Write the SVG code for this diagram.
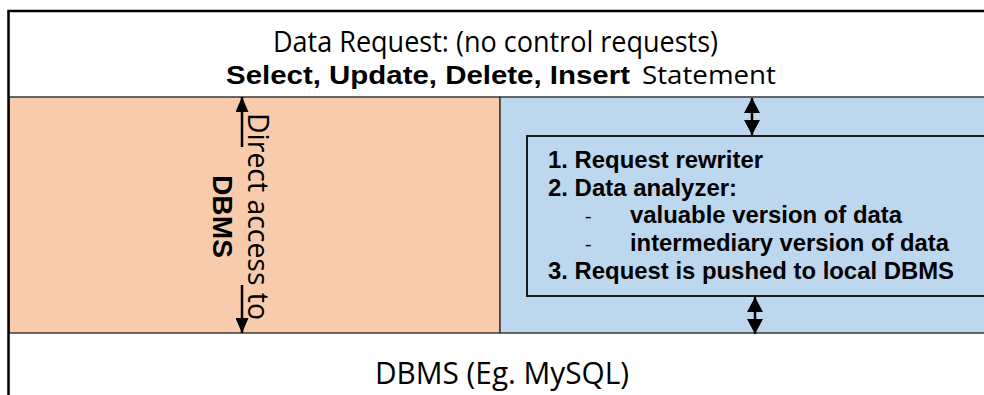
<svg xmlns="http://www.w3.org/2000/svg" width="984" height="395" viewBox="0 0 984 395">
<style>
.reg{font-family:"Open Sans","DejaVu Sans",sans-serif;fill:#000}
.bold{font-family:"Liberation Sans",Arial,sans-serif;font-weight:bold;fill:#000}
.band{stroke:#3a3a3a;stroke-width:1.5}
.conn{stroke:#000;stroke-width:2.5;fill:none}
</style>
<defs>
<marker id="hs" markerUnits="userSpaceOnUse" markerWidth="15" markerHeight="13" refX="15" refY="6.5" orient="auto-start-reverse">
<path d="M0,0 L15,6.5 L0,13 z" fill="#000"/>
</marker>
<marker id="hb" markerUnits="userSpaceOnUse" markerWidth="15" markerHeight="16" refX="15" refY="8" orient="auto-start-reverse">
<path d="M0,0 L15,8 L0,16 z" fill="#000"/>
</marker>
</defs>
<rect width="984" height="395" fill="#fff"/>
<g id="top-panel">
<text class="reg" x="273" y="52" font-size="29" textLength="445" lengthAdjust="spacingAndGlyphs">Data Request: (no control requests)</text>
<text class="bold" x="226" y="84" font-size="25" textLength="404" lengthAdjust="spacingAndGlyphs">Select, Update, Delete, Insert</text>
<text class="reg" x="642" y="84" font-size="25" textLength="134" lengthAdjust="spacingAndGlyphs">Statement</text>
</g>
<g id="direct-panel">
<rect class="band" x="9" y="97" width="491" height="236" fill="#F8CBAD"/>
<text class="reg" transform="translate(248,113) rotate(90)" font-size="29" textLength="207" lengthAdjust="spacingAndGlyphs">Direct access to</text>
<text class="bold" transform="translate(213,175) rotate(90)" font-size="27" textLength="83" lengthAdjust="spacingAndGlyphs">DBMS</text>
</g>
<g id="middleware-panel">
<rect class="band" x="500" y="97" width="490" height="236" fill="#BDD7EE"/>
</g>
<g id="processor">
<rect x="527" y="136" width="470" height="160" fill="#BDD7EE" stroke="#1a1a1a" stroke-width="2"/>
<text class="bold" x="548" y="168" font-size="24" textLength="215" lengthAdjust="spacingAndGlyphs">1. Request rewriter</text>
<text class="bold" x="548" y="195.5" font-size="24" textLength="189" lengthAdjust="spacingAndGlyphs">2. Data analyzer:</text>
<text class="reg" x="585" y="223" font-size="20">-</text>
<text class="bold" x="630" y="223" font-size="24" textLength="272" lengthAdjust="spacingAndGlyphs">valuable version of data</text>
<text class="reg" x="585" y="251" font-size="20">-</text>
<text class="bold" x="630" y="251" font-size="24" textLength="319" lengthAdjust="spacingAndGlyphs">intermediary version of data</text>
<text class="bold" x="548" y="279" font-size="24" textLength="406" lengthAdjust="spacingAndGlyphs">3. Request is pushed to local DBMS</text>
</g>
<g id="dbms-panel">
<text class="reg" x="375" y="384" font-size="31" textLength="254" lengthAdjust="spacingAndGlyphs">DBMS (Eg. MySQL)</text>
</g>
<g id="frame">
<path d="M8.5,395 V11 H984" fill="none" stroke="#000" stroke-width="2.5"/>
</g>
<g id="connectors">
<line class="conn" x1="242" y1="147" x2="242" y2="97" marker-end="url(#hs)"/>
<line class="conn" x1="242" y1="285" x2="242" y2="333" marker-end="url(#hs)"/>
<line class="conn" x1="752" y1="98" x2="752" y2="135" marker-start="url(#hb)" marker-end="url(#hb)"/>
<line class="conn" x1="755" y1="297" x2="755" y2="334" marker-start="url(#hb)" marker-end="url(#hb)"/>
</g>
</svg>
